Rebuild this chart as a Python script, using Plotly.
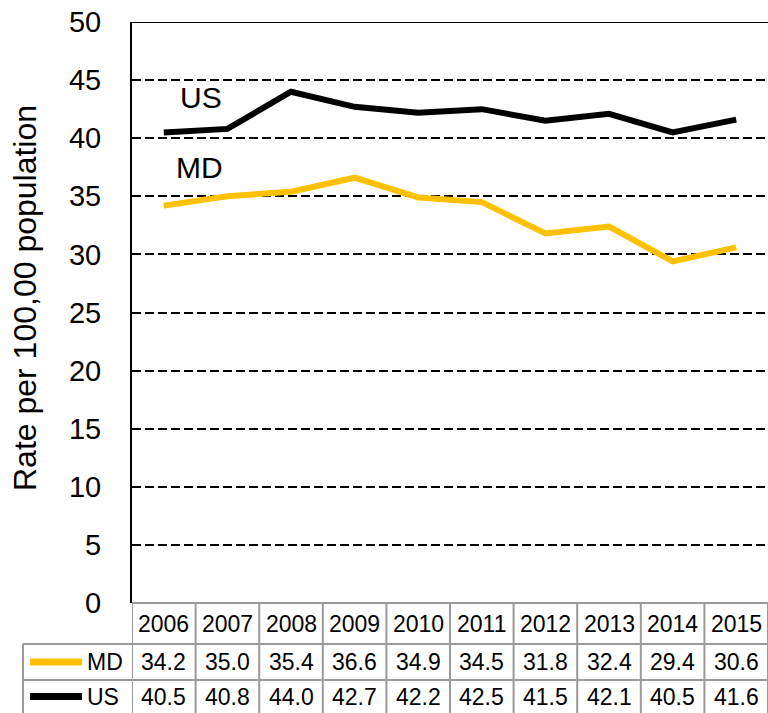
import plotly.graph_objects as go

# Age-adjusted rate per 100,000 population, Maryland vs United States
years = ["2006", "2007", "2008", "2009", "2010", "2011", "2012", "2013", "2014", "2015"]
md_rates = [34.2, 35.0, 35.4, 36.6, 34.9, 34.5, 31.8, 32.4, 29.4, 30.6]
us_rates = [40.5, 40.8, 44.0, 42.7, 42.2, 42.5, 41.5, 42.1, 40.5, 41.6]
y_ticks = [0, 5, 10, 15, 20, 25, 30, 35, 40, 45, 50]

MD_COLOR = "#FFC000"
US_COLOR = "#000000"
GRID_GRAY = "#9a9a9a"
FONT = "Liberation Sans, Arial, sans-serif"
TABLE_SIZE = 23

W, H = 768, 713
M_L, M_R, M_T, M_B = 132, 0, 22, 110
PW, PH = W - M_L - M_R, H - M_T - M_B


def px_x(px):
    """Horizontal pixel -> paper coordinate."""
    return (px - M_L) / PW


def px_y(py):
    """Vertical pixel -> paper coordinate."""
    return (H - M_B - py) / PH


idx = list(range(len(years)))

fig = go.Figure()
fig.add_trace(go.Scatter(x=idx, y=md_rates, mode="lines", name="MD",
                         line=dict(color=MD_COLOR, width=6), showlegend=False))
fig.add_trace(go.Scatter(x=idx, y=us_rates, mode="lines", name="US",
                         line=dict(color=US_COLOR, width=6), showlegend=False))

shapes = []
annotations = []

# solid top border at 50
shapes.append(dict(type="line", xref="paper", yref="y", x0=0, x1=1, y0=50, y1=50,
                   line=dict(color="black", width=2)))

# data table rows (pixel rows below the plot)
row_top, row1, row2, row3, row_bot = 603, 644, 680, 713, 720
legend_left = 23

# header row / value rows: horizontal rules
shapes.append(dict(type="line", xref="paper", yref="paper", x0=0, x1=1,
                   y0=px_y(row_top), y1=px_y(row_top), line=dict(color=GRID_GRAY, width=2)))
for r in (row1, row2):
    shapes.append(dict(type="line", xref="paper", yref="paper", x0=px_x(legend_left), x1=1,
                       y0=px_y(r), y1=px_y(r), line=dict(color=GRID_GRAY, width=2)))
# column rules
for k in range(len(years) + 1):
    shapes.append(dict(type="line", xref="x", yref="paper", x0=k - 0.5, x1=k - 0.5,
                       y0=px_y(row_top), y1=px_y(row_bot), line=dict(color=GRID_GRAY, width=2)))
# left border of the legend column
shapes.append(dict(type="line", xref="paper", yref="paper", x0=px_x(legend_left), x1=px_x(legend_left),
                   y0=px_y(row1), y1=px_y(row_bot), line=dict(color=GRID_GRAY, width=2)))

# legend keys inside table
for color, name, yc in ((MD_COLOR, "MD", (row1 + row2) / 2), (US_COLOR, "US", (row2 + row3) / 2)):
    shapes.append(dict(type="line", xref="paper", yref="paper", x0=px_x(30), x1=px_x(82),
                       y0=px_y(yc), y1=px_y(yc), line=dict(color=color, width=7)))
    annotations.append(dict(xref="paper", yref="paper", x=px_x(85), y=px_y(yc), text=name,
                            showarrow=False, xanchor="left", yanchor="middle",
                            font=dict(size=TABLE_SIZE, color="black", family=FONT)))

# table cells
for i, yr in enumerate(years):
    annotations.append(dict(xref="x", yref="paper", x=i, y=px_y((row_top + row1) / 2), text=yr,
                            showarrow=False, yanchor="middle",
                            font=dict(size=TABLE_SIZE, color="black", family=FONT)))
    annotations.append(dict(xref="x", yref="paper", x=i, y=px_y((row1 + row2) / 2),
                            text=f"{md_rates[i]:.1f}", showarrow=False, yanchor="middle",
                            font=dict(size=TABLE_SIZE, color="black", family=FONT)))
    annotations.append(dict(xref="x", yref="paper", x=i, y=px_y((row2 + row3) / 2),
                            text=f"{us_rates[i]:.1f}", showarrow=False, yanchor="middle",
                            font=dict(size=TABLE_SIZE, color="black", family=FONT)))

# series labels on the chart
annotations.append(dict(xref="x", yref="y", x=0.585, y=43.5, text="US", showarrow=False,
                        font=dict(size=30, color="black", family=FONT)))
annotations.append(dict(xref="x", yref="y", x=0.56, y=37.5, text="MD", showarrow=False,
                        font=dict(size=30, color="black", family=FONT)))

# y-axis title
annotations.append(dict(xref="paper", yref="paper", x=px_x(25), y=px_y(298),
                        text="Rate per 100,00 population", showarrow=False, textangle=-90,
                        xanchor="center", yanchor="middle",
                        font=dict(size=32, color="black", family=FONT)))

fig.update_layout(
    width=W, height=H,
    margin=dict(l=M_L, r=M_R, t=M_T, b=M_B, pad=0),
    paper_bgcolor="white", plot_bgcolor="white",
    font=dict(family=FONT, color="black"),
    shapes=shapes, annotations=annotations,
    xaxis=dict(range=[-0.5, len(years) - 0.5], showgrid=False, zeroline=False,
               showticklabels=False, ticks="", showline=False, fixedrange=True),
    yaxis=dict(range=[0, 50], tickvals=y_ticks, ticktext=[str(v) for v in y_ticks],
               showgrid=True, gridcolor="black", gridwidth=1.5, griddash="9px,4px",
               zeroline=False, showline=True, linecolor="black", linewidth=2,
               ticks="", ticklabelstandoff=23, tickfont=dict(size=29, family=FONT, color="black"),
               fixedrange=True),
)

fig.write_html("out.html")
